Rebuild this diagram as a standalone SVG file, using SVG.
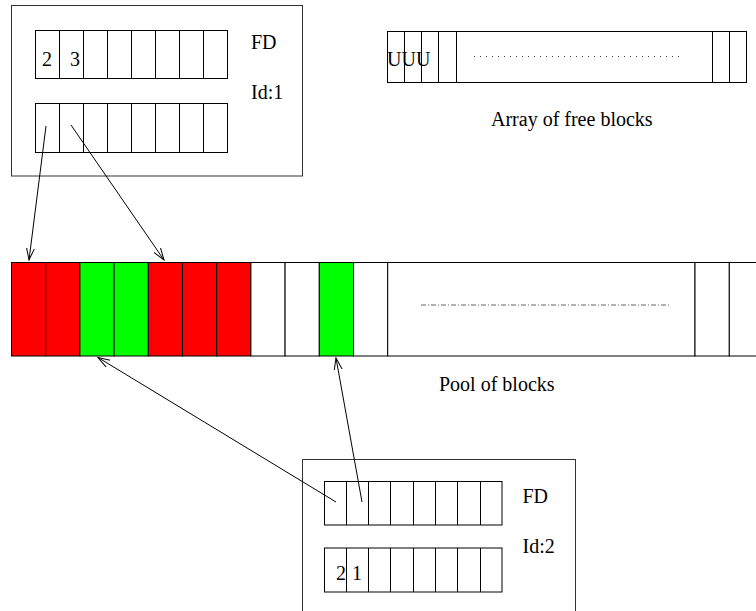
<svg xmlns="http://www.w3.org/2000/svg" width="756" height="611" viewBox="0 0 756 611">
<style>
.ln{fill:none;stroke:#000;stroke-width:1}
.box{fill:none;stroke:#333;stroke-width:1}
.t{font-family:"Liberation Serif","Times New Roman",serif;font-size:20px;fill:#000}
.red{fill:#ff0000;stroke:#000;stroke-width:1}
.grn{fill:#00ff00;stroke:#000;stroke-width:1}
.wht{fill:#fff;stroke:#000;stroke-width:1}
.conn{fill:none;stroke:#000;stroke-width:1}
</style>
<defs>
<marker id="arr" markerUnits="userSpaceOnUse" markerWidth="14" markerHeight="10" refX="12" refY="4.5" orient="auto">
<path d="M0,0.5 L12,4.5 L0,8.5" fill="none" stroke="#000" stroke-width="1"/>
</marker>
</defs>
<rect width="756" height="611" fill="#fff"/>

<g id="fd1">
<rect class="box" x="11.5" y="5.5" width="291" height="170.5"/>
<rect class="ln" x="35.5" y="30.5" width="192" height="48"/>
<path class="ln" d="M59.5,30.5V78.5M83.5,30.5V78.5M107.5,30.5V78.5M131.5,30.5V78.5M155.5,30.5V78.5M179.5,30.5V78.5M203.5,30.5V78.5"/>
<rect class="ln" x="35.5" y="103.5" width="192" height="49"/>
<path class="ln" d="M59.5,103.5V152.5M83.5,103.5V152.5M107.5,103.5V152.5M131.5,103.5V152.5M155.5,103.5V152.5M179.5,103.5V152.5M203.5,103.5V152.5"/>
<text class="t" x="42" y="66">2</text>
<text class="t" x="70" y="66">3</text>
<text class="t" x="251" y="49">FD</text>
<text class="t" x="251" y="99">Id:1</text>
</g>

<g id="freeArray">
<rect class="ln" x="387.5" y="31.5" width="359" height="51"/>
<path class="ln" d="M404.5,31.5V82.5M421.5,31.5V82.5M438.5,31.5V82.5M456.5,31.5V82.5M712.5,31.5V82.5M729.5,31.5V82.5"/>
<line x1="474" y1="56.5" x2="682" y2="56.5" stroke="#444" stroke-width="1" stroke-dasharray="1 5"/>
<text class="t" x="387" y="66">UUU</text>
<text class="t" x="491" y="126">Array of free blocks</text>
</g>

<g id="pool">
<rect class="red" x="11.5" y="262.5" width="34.2" height="93.5"/>
<rect class="red" x="45.7" y="262.5" width="34.2" height="93.5"/>
<rect class="grn" x="79.9" y="262.5" width="34.2" height="93.5"/>
<rect class="grn" x="114.1" y="262.5" width="34.2" height="93.5"/>
<rect class="red" x="148.3" y="262.5" width="34.2" height="93.5"/>
<rect class="red" x="182.5" y="262.5" width="34.2" height="93.5"/>
<rect class="red" x="216.7" y="262.5" width="34.2" height="93.5"/>
<rect class="wht" x="250.9" y="262.5" width="34.2" height="93.5"/>
<rect class="wht" x="285.1" y="262.5" width="34.2" height="93.5"/>
<rect class="grn" x="319.3" y="262.5" width="34.2" height="93.5"/>
<rect class="wht" x="353.5" y="262.5" width="34.2" height="93.5"/>
<rect class="wht" x="387.7" y="262.5" width="307.3" height="93.5"/>
<rect class="wht" x="695" y="262.5" width="34.3" height="93.5"/>
<rect class="wht" x="729.3" y="262.5" width="40" height="93.5"/>
<line x1="421" y1="305" x2="670" y2="305" stroke="#666" stroke-width="1" stroke-dasharray="5 2 1 2"/>
<text class="t" x="439" y="391">Pool of blocks</text>
</g>

<g id="fd2">
<rect class="box" x="302.5" y="459.5" width="273" height="160"/>
<rect class="ln" x="324.5" y="481.5" width="177.5" height="43.5"/>
<path class="ln" d="M346.5,481.5V525M368.5,481.5V525M390.5,481.5V525M413.5,481.5V525M435.5,481.5V525M457.5,481.5V525M480.5,481.5V525"/>
<rect class="ln" x="324.5" y="548" width="177.5" height="44"/>
<path class="ln" d="M346.5,548V592M368.5,548V592M390.5,548V592M413.5,548V592M435.5,548V592M457.5,548V592M480.5,548V592"/>
<text class="t" x="336" y="580">2</text>
<text class="t" x="352" y="580">1</text>
<text class="t" x="522.5" y="503">FD</text>
<text class="t" x="522.5" y="553">Id:2</text>
</g>

<g id="connectors">
<line class="conn" x1="46" y1="126" x2="29" y2="260" marker-end="url(#arr)"/>
<line class="conn" x1="71" y1="125" x2="164" y2="260" marker-end="url(#arr)"/>
<line class="conn" x1="336" y1="502" x2="98" y2="357.5" marker-end="url(#arr)"/>
<line class="conn" x1="362" y1="502" x2="336" y2="358" marker-end="url(#arr)"/>
</g>
</svg>
